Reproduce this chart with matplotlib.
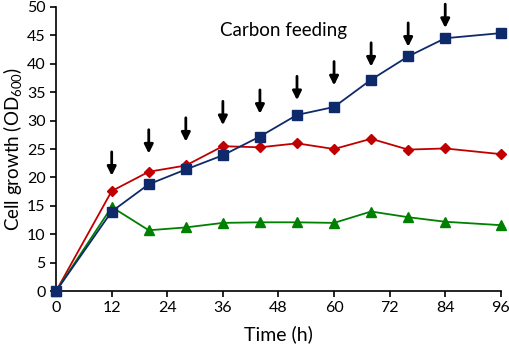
import numpy as np
import matplotlib.pyplot as plt

plt.rcParams['font.family'] = ['Lato', 'DejaVu Sans']
plt.rcParams['mathtext.default'] = 'regular'

# Sampling times (h)
time_h = [0, 12, 20, 28, 36, 44, 52, 60, 68, 76, 84, 96]

# Cell growth (OD600) for the three cultures
blue_od = [0, 14.0, 18.8, 21.4, 23.9, 27.2, 31.0, 32.4, 37.2, 41.3, 44.5, 45.4]
red_od = [0, 17.6, 21.0, 22.1, 25.5, 25.3, 26.0, 25.0, 26.8, 24.9, 25.1, 24.1]
green_od = [0, 14.8, 10.7, 11.2, 12.0, 12.1, 12.1, 12.0, 14.0, 13.0, 12.2, 11.6]

# Carbon feeding arrows: time and tip height
feed_times = [12, 20, 28, 36, 44, 52, 60, 68, 76, 84]
feed_tips = [20.3, 24.2, 26.3, 29.2, 31.2, 33.6, 36.2, 39.5, 43.0, 46.3]

fig = plt.figure(figsize=(5.10, 3.49), dpi=100)
ax = fig.add_axes([0.11, 0.166, 0.872, 0.814])

ax.plot(time_h, red_od, color='#C00000', lw=1.3, marker='D', ms=5.5,
        clip_on=False, zorder=3)
ax.plot(time_h, green_od, color='#008000', lw=1.3, marker='^', ms=7,
        clip_on=False, zorder=3)
ax.plot(time_h, blue_od, color='#0F2A6B', lw=1.3, marker='s', ms=6.5,
        clip_on=False, zorder=4)

# feeding arrows
for t, tip in zip(feed_times, feed_tips):
    ax.annotate('', xy=(t, tip), xytext=(t, tip + 4.2),
                arrowprops=dict(arrowstyle='-|>', lw=2, color='black',
                                mutation_scale=13, shrinkA=0, shrinkB=0))

ax.text(49, 45.8, 'Carbon feeding', fontsize=13.5, ha='center', va='center')

ax.set_xlim(0, 96)
ax.set_ylim(0, 50)
ax.set_xticks(np.arange(0, 97, 12))
ax.set_yticks(np.arange(0, 51, 5))
ax.tick_params(labelsize=11.5, direction='out', length=4, width=1.2)
ax.spines['top'].set_visible(False)
ax.spines['right'].set_visible(False)
ax.spines['left'].set_linewidth(1.2)
ax.spines['bottom'].set_linewidth(1.2)

ax.set_xlabel('Time (h)', fontsize=14, labelpad=7)
ax.set_ylabel('Cell growth (OD$_{600}$)', fontsize=13.5, labelpad=2)

fig.savefig('out.png', dpi=100)
